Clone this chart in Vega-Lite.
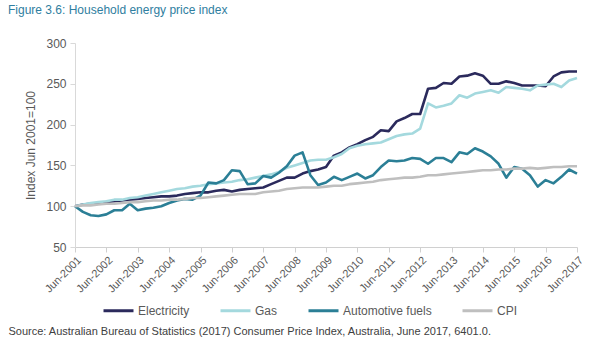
{
  "$schema": "https://vega.github.io/schema/vega-lite/v6.json",
  "autosize": {"type": "none"},
  "width": 502,
  "height": 204,
  "padding": {"left": 75, "top": 43, "right": 29, "bottom": 94},
  "background": "white",
  "config": {"font": "Liberation Sans", "view": {"stroke": null}},
  "title": {
    "text": "Figure 3.6: Household energy price index",
    "anchor": "start",
    "frame": "group",
    "dx": -67,
    "offset": 20,
    "fontSize": 12,
    "fontWeight": "normal",
    "color": "#2F7EA0"
  },
  "data": {"values": [
    {"q":"2001/06/01","Electricity":100,"Gas":100,"Automotive fuels":100,"CPI":100},
    {"q":"2001/09/01","Electricity":102,"Gas":102,"Automotive fuels":93,"CPI":101},
    {"q":"2001/12/01","Electricity":103,"Gas":104,"Automotive fuels":89,"CPI":101},
    {"q":"2002/03/01","Electricity":104,"Gas":105,"Automotive fuels":88,"CPI":102},
    {"q":"2002/06/01","Electricity":105,"Gas":106,"Automotive fuels":90,"CPI":103},
    {"q":"2002/09/01","Electricity":106,"Gas":108,"Automotive fuels":95,"CPI":103},
    {"q":"2002/12/01","Electricity":107,"Gas":108,"Automotive fuels":95,"CPI":104},
    {"q":"2003/03/01","Electricity":108,"Gas":110,"Automotive fuels":103,"CPI":105},
    {"q":"2003/06/01","Electricity":109,"Gas":111,"Automotive fuels":95,"CPI":105},
    {"q":"2003/09/01","Electricity":110,"Gas":113,"Automotive fuels":97,"CPI":106},
    {"q":"2003/12/01","Electricity":111,"Gas":115,"Automotive fuels":98,"CPI":107},
    {"q":"2004/03/01","Electricity":112,"Gas":117,"Automotive fuels":100,"CPI":107},
    {"q":"2004/06/01","Electricity":112,"Gas":119,"Automotive fuels":104,"CPI":108},
    {"q":"2004/09/01","Electricity":113,"Gas":121,"Automotive fuels":107,"CPI":108},
    {"q":"2004/12/01","Electricity":115,"Gas":122,"Automotive fuels":109,"CPI":109},
    {"q":"2005/03/01","Electricity":116,"Gas":124,"Automotive fuels":108,"CPI":110},
    {"q":"2005/06/01","Electricity":117,"Gas":125,"Automotive fuels":113,"CPI":110},
    {"q":"2005/09/01","Electricity":117,"Gas":127,"Automotive fuels":129,"CPI":111},
    {"q":"2005/12/01","Electricity":119,"Gas":128,"Automotive fuels":128,"CPI":112},
    {"q":"2006/03/01","Electricity":120,"Gas":129,"Automotive fuels":132,"CPI":113},
    {"q":"2006/06/01","Electricity":118,"Gas":130,"Automotive fuels":144,"CPI":114},
    {"q":"2006/09/01","Electricity":120,"Gas":132,"Automotive fuels":143,"CPI":115},
    {"q":"2006/12/01","Electricity":121,"Gas":133,"Automotive fuels":127,"CPI":115},
    {"q":"2007/03/01","Electricity":122,"Gas":135,"Automotive fuels":128,"CPI":115},
    {"q":"2007/06/01","Electricity":123,"Gas":137,"Automotive fuels":137,"CPI":117},
    {"q":"2007/09/01","Electricity":127,"Gas":139,"Automotive fuels":135,"CPI":118},
    {"q":"2007/12/01","Electricity":131,"Gas":142,"Automotive fuels":141,"CPI":119},
    {"q":"2008/03/01","Electricity":135,"Gas":147,"Automotive fuels":149,"CPI":121},
    {"q":"2008/06/01","Electricity":135,"Gas":150,"Automotive fuels":162,"CPI":122},
    {"q":"2008/09/01","Electricity":140,"Gas":153,"Automotive fuels":166,"CPI":123},
    {"q":"2008/12/01","Electricity":143,"Gas":156,"Automotive fuels":138,"CPI":123},
    {"q":"2009/03/01","Electricity":145,"Gas":157,"Automotive fuels":126,"CPI":123},
    {"q":"2009/06/01","Electricity":148,"Gas":157,"Automotive fuels":129,"CPI":124},
    {"q":"2009/09/01","Electricity":162,"Gas":160,"Automotive fuels":136,"CPI":125},
    {"q":"2009/12/01","Electricity":166,"Gas":164,"Automotive fuels":132,"CPI":125},
    {"q":"2010/03/01","Electricity":172,"Gas":171,"Automotive fuels":136,"CPI":127},
    {"q":"2010/06/01","Electricity":176,"Gas":174,"Automotive fuels":140,"CPI":128},
    {"q":"2010/09/01","Electricity":181,"Gas":176,"Automotive fuels":134,"CPI":129},
    {"q":"2010/12/01","Electricity":185,"Gas":177,"Automotive fuels":138,"CPI":130},
    {"q":"2011/03/01","Electricity":193,"Gas":178,"Automotive fuels":148,"CPI":132},
    {"q":"2011/06/01","Electricity":192,"Gas":182,"Automotive fuels":156,"CPI":133},
    {"q":"2011/09/01","Electricity":204,"Gas":186,"Automotive fuels":155,"CPI":134},
    {"q":"2011/12/01","Electricity":208,"Gas":188,"Automotive fuels":156,"CPI":135},
    {"q":"2012/03/01","Electricity":213,"Gas":189,"Automotive fuels":159,"CPI":135},
    {"q":"2012/06/01","Electricity":213,"Gas":195,"Automotive fuels":158,"CPI":136},
    {"q":"2012/09/01","Electricity":244,"Gas":226,"Automotive fuels":152,"CPI":138},
    {"q":"2012/12/01","Electricity":245,"Gas":221,"Automotive fuels":159,"CPI":138},
    {"q":"2013/03/01","Electricity":251,"Gas":223,"Automotive fuels":159,"CPI":139},
    {"q":"2013/06/01","Electricity":250,"Gas":226,"Automotive fuels":154,"CPI":140},
    {"q":"2013/09/01","Electricity":259,"Gas":236,"Automotive fuels":166,"CPI":141},
    {"q":"2013/12/01","Electricity":260,"Gas":233,"Automotive fuels":164,"CPI":142},
    {"q":"2014/03/01","Electricity":263,"Gas":238,"Automotive fuels":171,"CPI":143},
    {"q":"2014/06/01","Electricity":260,"Gas":240,"Automotive fuels":167,"CPI":144},
    {"q":"2014/09/01","Electricity":250,"Gas":242,"Automotive fuels":161,"CPI":144},
    {"q":"2014/12/01","Electricity":250,"Gas":239,"Automotive fuels":152,"CPI":145},
    {"q":"2015/03/01","Electricity":253,"Gas":246,"Automotive fuels":135,"CPI":145},
    {"q":"2015/06/01","Electricity":251,"Gas":245,"Automotive fuels":148,"CPI":146},
    {"q":"2015/09/01","Electricity":248,"Gas":244,"Automotive fuels":146,"CPI":146},
    {"q":"2015/12/01","Electricity":248,"Gas":242,"Automotive fuels":138,"CPI":147},
    {"q":"2016/03/01","Electricity":248,"Gas":248,"Automotive fuels":124,"CPI":146},
    {"q":"2016/06/01","Electricity":247,"Gas":249,"Automotive fuels":132,"CPI":147},
    {"q":"2016/09/01","Electricity":259,"Gas":250,"Automotive fuels":128,"CPI":148},
    {"q":"2016/12/01","Electricity":264,"Gas":246,"Automotive fuels":136,"CPI":148},
    {"q":"2017/03/01","Electricity":265,"Gas":254,"Automotive fuels":145,"CPI":149},
    {"q":"2017/06/01","Electricity":265,"Gas":257,"Automotive fuels":140,"CPI":149}
  ]},
  "transform": [
    {"fold": ["Electricity", "Gas", "Automotive fuels", "CPI"], "as": ["series", "index"]}
  ],
  "mark": {"type": "line", "strokeWidth": 2.6, "strokeJoin": "round"},
  "encoding": {
    "x": {
      "field": "q",
      "type": "temporal",
      "scale": {"domain": [{"year": 2001, "month": 6, "date": 1}, {"year": 2017, "month": 6, "date": 1}], "nice": false},
      "axis": {
        "values": [
          {"year": 2001, "month": 6, "date": 1}, {"year": 2002, "month": 6, "date": 1}, {"year": 2003, "month": 6, "date": 1},
          {"year": 2004, "month": 6, "date": 1}, {"year": 2005, "month": 6, "date": 1}, {"year": 2006, "month": 6, "date": 1},
          {"year": 2007, "month": 6, "date": 1}, {"year": 2008, "month": 6, "date": 1}, {"year": 2009, "month": 6, "date": 1},
          {"year": 2010, "month": 6, "date": 1}, {"year": 2011, "month": 6, "date": 1}, {"year": 2012, "month": 6, "date": 1},
          {"year": 2013, "month": 6, "date": 1}, {"year": 2014, "month": 6, "date": 1}, {"year": 2015, "month": 6, "date": 1},
          {"year": 2016, "month": 6, "date": 1}, {"year": 2017, "month": 6, "date": 1}
        ],
        "format": "%b-%Y",
        "labelAngle": -45,
        "labelOverlap": false,
        "labelBound": false,
        "labelFlush": false,
        "labelFontSize": 11,
        "labelColor": "#595959",
        "labelPadding": 2,
        "grid": false,
        "domainColor": "#d0d0d0",
        "tickColor": "#d0d0d0",
        "tickSize": 5,
        "title": "Source: Australian Bureau of Statistics (2017) Consumer Price Index, Australia, June 2017, 6401.0.",
        "titleFontSize": 11,
        "titleFontWeight": "normal",
        "titleColor": "#404040",
        "titleAnchor": "start",
        "titleAlign": "left",
        "titleBaseline": "middle",
        "titleX": -67,
        "titleY": 84
      }
    },
    "y": {
      "field": "index",
      "type": "quantitative",
      "scale": {"domain": [50, 300], "nice": false, "zero": false},
      "axis": {
        "values": [50, 100, 150, 200, 250, 300],
        "title": "Index Jun 2001=100",
        "titleFontSize": 12,
        "titleFontWeight": "normal",
        "titleColor": "#595959",
        "titlePadding": 8,
        "labelFontSize": 12,
        "labelColor": "#595959",
        "labelPadding": 4,
        "grid": false,
        "domainColor": "#d9d9d9",
        "tickColor": "#d9d9d9",
        "tickSize": 5
      }
    },
    "color": {
      "field": "series",
      "type": "nominal",
      "scale": {
        "domain": ["Electricity", "Gas", "Automotive fuels", "CPI"],
        "range": ["#2B2A5C", "#A4D9DE", "#2B7F96", "#BFBFBF"]
      },
      "legend": {
        "title": null,
        "orient": "none",
        "direction": "horizontal",
        "legendX": 27,
        "legendY": 251,
        "symbolType": "stroke",
        "symbolStrokeWidth": 3,
        "symbolSize": 900,
        "labelFontSize": 12,
        "labelColor": "#595959",
        "labelOffset": 3,
        "columnPadding": 24
      }
    },
    "order": {"field": "q", "type": "temporal"}
  }
}
